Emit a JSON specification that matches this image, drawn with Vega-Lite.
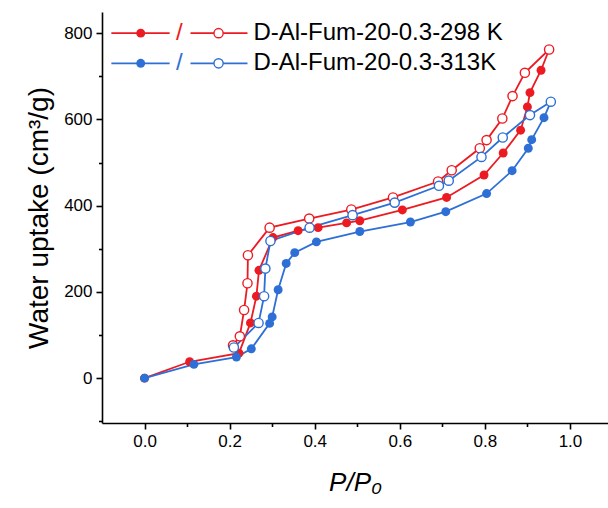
{
  "$schema": "https://vega.github.io/schema/vega-lite/v6.json",
  "width": 506,
  "height": 411,
  "autosize": {"type": "none"},
  "padding": {"left": 102, "top": 12, "right": 0, "bottom": 85},
  "background": "white",
  "config": {
    "view": {"stroke": null},
    "font": "Liberation Sans"
  },
  "datasets": {
    "iso": [
      {"series": "298 K", "branch": "ads", "o": 1, "p": 0, "u": 0},
      {"series": "298 K", "branch": "ads", "o": 2, "p": 0.106, "u": 38},
      {"series": "298 K", "branch": "ads", "o": 3, "p": 0.222, "u": 58},
      {"series": "298 K", "branch": "ads", "o": 4, "p": 0.249, "u": 128},
      {"series": "298 K", "branch": "ads", "o": 5, "p": 0.263, "u": 190},
      {"series": "298 K", "branch": "ads", "o": 6, "p": 0.269, "u": 250},
      {"series": "298 K", "branch": "ads", "o": 7, "p": 0.302, "u": 326},
      {"series": "298 K", "branch": "ads", "o": 8, "p": 0.361, "u": 342},
      {"series": "298 K", "branch": "ads", "o": 9, "p": 0.408, "u": 349},
      {"series": "298 K", "branch": "ads", "o": 10, "p": 0.475, "u": 360},
      {"series": "298 K", "branch": "ads", "o": 11, "p": 0.506, "u": 365},
      {"series": "298 K", "branch": "ads", "o": 12, "p": 0.606, "u": 390},
      {"series": "298 K", "branch": "ads", "o": 13, "p": 0.71, "u": 419},
      {"series": "298 K", "branch": "ads", "o": 14, "p": 0.798, "u": 471},
      {"series": "298 K", "branch": "ads", "o": 15, "p": 0.843, "u": 522},
      {"series": "298 K", "branch": "ads", "o": 16, "p": 0.884, "u": 575},
      {"series": "298 K", "branch": "ads", "o": 17, "p": 0.9, "u": 629},
      {"series": "298 K", "branch": "ads", "o": 18, "p": 0.906, "u": 662},
      {"series": "298 K", "branch": "ads", "o": 19, "p": 0.932, "u": 714},
      {"series": "298 K", "branch": "ads", "o": 20, "p": 0.951, "u": 762},
      {"series": "298 K", "branch": "des", "o": 1, "p": 0.951, "u": 762},
      {"series": "298 K", "branch": "des", "o": 2, "p": 0.894, "u": 708},
      {"series": "298 K", "branch": "des", "o": 3, "p": 0.865, "u": 654},
      {"series": "298 K", "branch": "des", "o": 4, "p": 0.841, "u": 602},
      {"series": "298 K", "branch": "des", "o": 5, "p": 0.804, "u": 552},
      {"series": "298 K", "branch": "des", "o": 6, "p": 0.788, "u": 533},
      {"series": "298 K", "branch": "des", "o": 7, "p": 0.722, "u": 482},
      {"series": "298 K", "branch": "des", "o": 8, "p": 0.69, "u": 456},
      {"series": "298 K", "branch": "des", "o": 9, "p": 0.584, "u": 419},
      {"series": "298 K", "branch": "des", "o": 10, "p": 0.486, "u": 391},
      {"series": "298 K", "branch": "des", "o": 11, "p": 0.387, "u": 370},
      {"series": "298 K", "branch": "des", "o": 12, "p": 0.294, "u": 349},
      {"series": "298 K", "branch": "des", "o": 13, "p": 0.243, "u": 285},
      {"series": "298 K", "branch": "des", "o": 14, "p": 0.242, "u": 220},
      {"series": "298 K", "branch": "des", "o": 15, "p": 0.234, "u": 158},
      {"series": "298 K", "branch": "des", "o": 16, "p": 0.224, "u": 97},
      {"series": "298 K", "branch": "des", "o": 17, "p": 0.208, "u": 76},
      {"series": "313K", "branch": "ads", "o": 1, "p": 0, "u": 0},
      {"series": "313K", "branch": "ads", "o": 2, "p": 0.116, "u": 32},
      {"series": "313K", "branch": "ads", "o": 3, "p": 0.216, "u": 49},
      {"series": "313K", "branch": "ads", "o": 4, "p": 0.251, "u": 68},
      {"series": "313K", "branch": "ads", "o": 5, "p": 0.294, "u": 127},
      {"series": "313K", "branch": "ads", "o": 6, "p": 0.3, "u": 142},
      {"series": "313K", "branch": "ads", "o": 7, "p": 0.314, "u": 205},
      {"series": "313K", "branch": "ads", "o": 8, "p": 0.333, "u": 266},
      {"series": "313K", "branch": "ads", "o": 9, "p": 0.353, "u": 291},
      {"series": "313K", "branch": "ads", "o": 10, "p": 0.404, "u": 316},
      {"series": "313K", "branch": "ads", "o": 11, "p": 0.506, "u": 340},
      {"series": "313K", "branch": "ads", "o": 12, "p": 0.625, "u": 362},
      {"series": "313K", "branch": "ads", "o": 13, "p": 0.708, "u": 386},
      {"series": "313K", "branch": "ads", "o": 14, "p": 0.804, "u": 428},
      {"series": "313K", "branch": "ads", "o": 15, "p": 0.864, "u": 481},
      {"series": "313K", "branch": "ads", "o": 16, "p": 0.902, "u": 533},
      {"series": "313K", "branch": "ads", "o": 17, "p": 0.91, "u": 553},
      {"series": "313K", "branch": "ads", "o": 18, "p": 0.939, "u": 604},
      {"series": "313K", "branch": "ads", "o": 19, "p": 0.955, "u": 641},
      {"series": "313K", "branch": "des", "o": 1, "p": 0.955, "u": 641},
      {"series": "313K", "branch": "des", "o": 2, "p": 0.906, "u": 610},
      {"series": "313K", "branch": "des", "o": 3, "p": 0.842, "u": 558},
      {"series": "313K", "branch": "des", "o": 4, "p": 0.792, "u": 513},
      {"series": "313K", "branch": "des", "o": 5, "p": 0.715, "u": 458},
      {"series": "313K", "branch": "des", "o": 6, "p": 0.692, "u": 446},
      {"series": "313K", "branch": "des", "o": 7, "p": 0.588, "u": 407},
      {"series": "313K", "branch": "des", "o": 8, "p": 0.489, "u": 378},
      {"series": "313K", "branch": "des", "o": 9, "p": 0.388, "u": 349},
      {"series": "313K", "branch": "des", "o": 10, "p": 0.296, "u": 318},
      {"series": "313K", "branch": "des", "o": 11, "p": 0.284, "u": 254},
      {"series": "313K", "branch": "des", "o": 12, "p": 0.281, "u": 190},
      {"series": "313K", "branch": "des", "o": 13, "p": 0.268, "u": 128},
      {"series": "313K", "branch": "des", "o": 14, "p": 0.21, "u": 71}
    ],
    "legSeg": [
      {"series": "298 K", "x1": -0.078, "x2": 0.059, "y": 800},
      {"series": "298 K", "x1": 0.108, "x2": 0.242, "y": 800},
      {"series": "313K", "x1": -0.078, "x2": 0.059, "y": 730},
      {"series": "313K", "x1": 0.108, "x2": 0.242, "y": 730}
    ],
    "legPt": [
      {"series": "298 K", "branch": "ads", "x": -0.009, "y": 800},
      {"series": "298 K", "branch": "des", "x": 0.174, "y": 800},
      {"series": "313K", "branch": "ads", "x": -0.009, "y": 730},
      {"series": "313K", "branch": "des", "x": 0.174, "y": 730}
    ],
    "legTxt": [
      {"series": "298 K", "x": 0.082, "y": 800, "slash": "/", "label": "D-Al-Fum-20-0.3-298 K"},
      {"series": "313K", "x": 0.082, "y": 730, "slash": "/", "label": "D-Al-Fum-20-0.3-313K"}
    ]
  },
  "layer": [
    {
      "mark": {"type": "rule", "strokeWidth": 1.6, "color": "black"},
      "encoding": {"y": {"datum": 849, "type": "quantitative"}}
    },
    {
      "data": {"name": "iso"},
      "mark": {"type": "line", "strokeWidth": 1.8, "clip": true},
      "encoding": {
        "x": {"field": "p", "type": "quantitative",
          "scale": {"domain": [-0.1, 1.0894], "nice": false, "zero": false},
          "axis": {"values": [0, 0.1, 0.2, 0.3, 0.4, 0.5, 0.6, 0.7, 0.8, 0.9, 1.0], "format": ".1f", "title": "P/P₀",
            "labelExpr": "abs(round(datum.value*10)) % 2 === 0 ? datum.label : ''",
            "tickSize": {"condition": {"test": "abs(round(datum.value*10)) % 2 === 0", "value": 6}, "value": 3.5},
            "titleFont": "Liberation Sans", "titleFontStyle": "italic", "titleFontWeight": "normal", "titleFontSize": 26, "titlePadding": 20, "titleColor": "black",
            "labelFontSize": 17, "labelColor": "black", "labelPadding": 4, "labelFont": "Liberation Sans",
            "domainColor": "black", "domainWidth": 1.6, "tickColor": "black", "tickWidth": 1.6, "grid": false}},
        "y": {"field": "u", "type": "quantitative",
          "scale": {"domain": [-104, 849], "nice": false, "zero": false},
          "axis": {"values": [-100, 0, 100, 200, 300, 400, 500, 600, 700, 800], "title": "Water uptake (cm³/g)",
            "labelExpr": "datum.value % 200 === 0 ? datum.label : ''",
            "tickSize": {"condition": {"test": "datum.value % 200 === 0", "value": 6}, "value": 3.5},
            "titleFont": "Liberation Sans", "titleFontWeight": "normal", "titleFontSize": 28, "titlePadding": 10, "titleColor": "black",
            "labelFontSize": 17, "labelColor": "black", "labelPadding": 4, "labelFont": "Liberation Sans",
            "domainColor": "black", "domainWidth": 1.6, "tickColor": "black", "tickWidth": 1.6, "grid": false}},
        "color": {"field": "series", "type": "nominal", "scale": {"domain": ["298 K", "313K"], "range": ["#ec1b22", "#2e6fd6"]}, "legend": null},
        "detail": {"field": "branch"},
        "order": {"field": "o", "type": "quantitative"}
      }
    },
    {
      "data": {"name": "iso"},
      "transform": [{"filter": "datum.branch === 'ads'"}],
      "mark": {"type": "point", "shape": "circle", "filled": true, "size": 80, "opacity": 1},
      "encoding": {
        "x": {"field": "p", "type": "quantitative"},
        "y": {"field": "u", "type": "quantitative"},
        "color": {"field": "series", "type": "nominal", "legend": null}
      }
    },
    {
      "data": {"name": "iso"},
      "transform": [{"filter": "datum.branch === 'des'"}],
      "mark": {"type": "point", "shape": "circle", "filled": false, "fill": "white", "fillOpacity": 1, "strokeWidth": 1.4, "size": 85, "opacity": 1},
      "encoding": {
        "x": {"field": "p", "type": "quantitative"},
        "y": {"field": "u", "type": "quantitative"},
        "stroke": {"field": "series", "type": "nominal", "scale": {"domain": ["298 K", "313K"], "range": ["#ec1b22", "#2e6fd6"]}, "legend": null}
      }
    },
    {
      "data": {"name": "legSeg"},
      "mark": {"type": "rule", "strokeWidth": 1.8},
      "encoding": {
        "x": {"field": "x1", "type": "quantitative"},
        "x2": {"field": "x2"},
        "y": {"field": "y", "type": "quantitative"},
        "color": {"field": "series", "type": "nominal", "legend": null}
      }
    },
    {
      "data": {"name": "legPt"},
      "transform": [{"filter": "datum.branch === 'ads'"}],
      "mark": {"type": "point", "shape": "circle", "filled": true, "size": 80, "opacity": 1},
      "encoding": {
        "x": {"field": "x", "type": "quantitative"},
        "y": {"field": "y", "type": "quantitative"},
        "color": {"field": "series", "type": "nominal", "legend": null}
      }
    },
    {
      "data": {"name": "legPt"},
      "transform": [{"filter": "datum.branch === 'des'"}],
      "mark": {"type": "point", "shape": "circle", "filled": false, "fill": "white", "fillOpacity": 1, "strokeWidth": 1.4, "size": 85, "opacity": 1},
      "encoding": {
        "x": {"field": "x", "type": "quantitative"},
        "y": {"field": "y", "type": "quantitative"},
        "stroke": {"field": "series", "type": "nominal", "legend": null}
      }
    },
    {
      "data": {"name": "legTxt"},
      "mark": {"type": "text", "fontSize": 24, "font": "Liberation Sans", "align": "center", "baseline": "middle"},
      "encoding": {
        "x": {"field": "x", "type": "quantitative"},
        "y": {"field": "y", "type": "quantitative"},
        "text": {"field": "slash"},
        "color": {"field": "series", "type": "nominal", "legend": null}
      }
    },
    {
      "data": {"name": "legTxt"},
      "mark": {"type": "text", "fontSize": 24, "font": "Liberation Sans", "align": "left", "baseline": "middle", "dx": 74, "color": "black"},
      "encoding": {
        "x": {"field": "x", "type": "quantitative"},
        "y": {"field": "y", "type": "quantitative"},
        "text": {"field": "label"}
      }
    }
  ]
}
